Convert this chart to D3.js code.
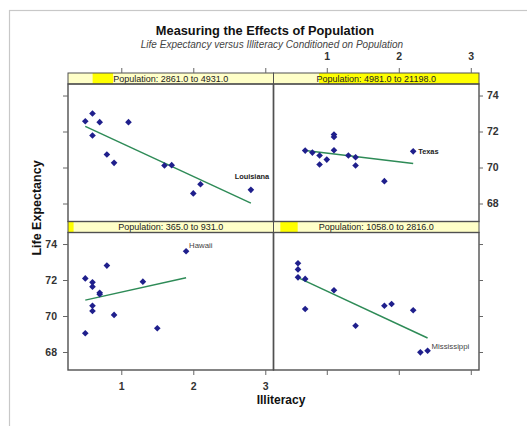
<!DOCTYPE html>
<html><head><meta charset="utf-8">
<script src="https://cdn.jsdelivr.net/npm/d3@7"></script>
<style>body{margin:0;background:#fff;} svg{display:block;}</style>
</head><body>
<script>
// ---- data ----
const popLow  = [365, 1058, 2861, 4981];
const popHigh = [931, 2816, 4931, 21198];
const popMin = 365, popMax = 21198;
// panel 1: pop 365-931 (bottom-left)
const illit1 = [0.5, 0.6, 0.6, 0.6, 0.6, 0.7, 0.7, 0.8, 0.9, 0.5, 1.3, 1.5, 1.9];
const life1  = [72.09, 71.87, 71.63, 70.57, 70.28, 71.29, 71.21, 72.80, 70.06, 69.04, 71.91, 69.32, 73.60];
// panel 2: pop 1058-2816 (bottom-right)
const illit2 = [0.6, 0.6, 0.6, 0.7, 0.7, 1.1, 1.4, 1.8, 1.9, 2.2, 2.3, 2.4];
const life2  = [72.93, 72.59, 72.15, 72.06, 70.39, 71.43, 69.46, 70.57, 70.67, 70.32, 67.98, 68.07];
// panel 3: pop 2861-4931 (top-left)
const illit3 = [0.5, 0.6, 0.6, 0.7, 0.8, 0.9, 1.1, 1.6, 1.7, 2.1, 2.0, 2.8];
const life3  = [72.57, 73.00, 71.78, 72.52, 70.72, 70.26, 72.52, 70.11, 70.13, 69.07, 68.56, 68.76];
// panel 4: pop 4981-21198 (top-right)
const illit4 = [0.7, 0.8, 0.9, 0.9, 1.0, 1.1, 1.1, 1.1, 1.3, 1.4, 1.4, 1.8, 2.2];
const life4  = [70.94, 70.83, 70.67, 70.17, 70.44, 71.83, 71.70, 70.96, 70.67, 70.57, 70.11, 69.24, 70.90];
const labelNames = ["Hawaii", "Mississippi", "Louisiana", "Texas"];
const labelIdx   = [12, 11, 11, 12];
const xTicks = [1, 2, 3];
const yTicks = [68, 70, 72, 74];

(function () {
const W = 527, H = 426;
const svg = d3.select("body").append("svg").attr("width", W).attr("height", H);
const font = "'Liberation Sans', Arial, sans-serif";

// outer light border
svg.append("rect").attr("x", 9.5).attr("y", 10.5).attr("width", 540).attr("height", 440)
  .attr("fill", "none").attr("stroke", "#c8c8c8").attr("stroke-width", 1.2);

// titles
svg.append("text").attr("x", 265).attr("y", 35).attr("text-anchor", "middle")
  .attr("font-family", font).attr("font-weight", "bold").attr("font-size", 12.8).attr("fill", "#111")
  .text("Measuring the Effects of Population");
svg.append("text").attr("x", 272).attr("y", 48).attr("text-anchor", "middle")
  .attr("font-family", font).attr("font-style", "italic").attr("font-size", 10).attr("fill", "#444")
  .text("Life Expectancy versus Illiteracy Conditioned on Population");

// layout
const leftX = 68, topY = 73, colW = 205.5, stripH = 11, plotH = 137.5;
const panelH = stripH + plotH;
const panels = [
  {xs: illit1, ys: life1, col: 0, row: 1},
  {xs: illit2, ys: life2, col: 1, row: 1},
  {xs: illit3, ys: life3, col: 0, row: 0},
  {xs: illit4, ys: life4, col: 1, row: 0}
];
const xDomain = [0.26, 3.114];
const yDomain = [67, 74.64];
const pointColor = "#1f1f8c", lineColor = "#2e8b57", frameColor = "#505050";

panels.forEach((p, i) => {
  const x0 = leftX + p.col * colW;
  const sy = topY + p.row * panelH;
  const py = sy + stripH;
  const x = d3.scaleLinear().domain(xDomain).range([x0, x0 + colW]);
  const y = d3.scaleLinear().domain(yDomain).range([py + plotH, py]);
  const g = svg.append("g");

  // strip
  g.append("rect").attr("x", x0).attr("y", sy).attr("width", colW).attr("height", stripH)
    .attr("fill", "#ffffc8");
  const ps = d3.scaleLinear().domain([popMin, popMax]).range([x0, x0 + colW]);
  g.append("rect").attr("x", ps(popLow[i])).attr("y", sy)
    .attr("width", Math.max(3, ps(popHigh[i]) - ps(popLow[i]))).attr("height", stripH)
    .attr("fill", "#ffff00");
  g.append("rect").attr("x", x0).attr("y", sy).attr("width", colW).attr("height", stripH)
    .attr("fill", "none").attr("stroke", frameColor).attr("stroke-width", 1);
  g.append("text").attr("x", x0 + colW / 2).attr("y", sy + 8.9).attr("text-anchor", "middle")
    .attr("font-family", font).attr("font-size", 9).attr("fill", "#222")
    .text(`Population: ${popLow[i].toFixed(1)} to ${popHigh[i].toFixed(1)}`);

  // plot frame
  g.append("rect").attr("x", x0).attr("y", py).attr("width", colW).attr("height", plotH)
    .attr("fill", "none").attr("stroke", frameColor).attr("stroke-width", 1.4);

  // regression line from the data
  const mx = d3.mean(p.xs), my = d3.mean(p.ys);
  const sxy = d3.sum(p.xs.map((v, k) => (v - mx) * (p.ys[k] - my)));
  const sxx = d3.sum(p.xs.map(v => (v - mx) * (v - mx)));
  const b = sxy / sxx, a = my - b * mx;
  const [ex0, ex1] = d3.extent(p.xs);
  g.append("line").attr("x1", x(ex0)).attr("y1", y(a + b * ex0))
    .attr("x2", x(ex1)).attr("y2", y(a + b * ex1))
    .attr("stroke", lineColor).attr("stroke-width", 1.5);

  // points
  const sym = d3.symbol().type(d3.symbolSquare).size(22);
  p.xs.forEach((v, k) => {
    g.append("path").attr("d", sym())
      .attr("transform", `translate(${x(v)},${y(p.ys[k])}) rotate(45)`)
      .attr("fill", pointColor);
  });

  // label
  const li = labelIdx[i];
  const lx = x(p.xs[li]), ly = y(p.ys[li]);
  const lab = g.append("text").attr("font-family", font).attr("fill", "#222").text(labelNames[i]);
  if (i === 0) lab.attr("x", lx + 3).attr("y", ly - 3.5).attr("font-size", 7.8).attr("fill", "#444");
  if (i === 1) lab.attr("x", lx + 4).attr("y", ly - 2).attr("font-size", 7.8).attr("fill", "#444");
  if (i === 2) lab.attr("x", lx + 1).attr("y", ly - 10.5).attr("text-anchor", "middle").attr("font-size", 7.4).attr("font-weight", "bold");
  if (i === 3) lab.attr("x", lx + 5).attr("y", ly + 2.6).attr("font-size", 7.4).attr("font-weight", "bold");

  // axes
  const noDomain = sel => sel.select(".domain").remove();
  if (p.row === 1) {
    const ax = g.append("g").attr("transform", `translate(0,${py + plotH})`)
      .call(d3.axisBottom(x).tickValues(xTicks).tickSize(5).tickPadding(8)
        .tickFormat(p.col === 0 ? d3.format("d") : ""));
    noDomain(ax);
  } else {
    const ax = g.append("g").attr("transform", `translate(0,${sy})`)
      .call(d3.axisTop(x).tickValues(xTicks).tickSize(5).tickPadding(8)
        .tickFormat(p.col === 1 ? d3.format("d") : ""));
    noDomain(ax);
  }
  if (p.col === 0) {
    const ay = g.append("g").attr("transform", `translate(${x0},0)`)
      .call(d3.axisLeft(y).tickValues(yTicks).tickSize(5).tickPadding(6)
        .tickFormat(p.row === 1 ? d3.format("d") : ""));
    noDomain(ay);
  } else {
    const ay = g.append("g").attr("transform", `translate(${x0 + colW},0)`)
      .call(d3.axisRight(y).tickValues(yTicks).tickSize(4).tickPadding(4)
        .tickFormat(p.row === 0 ? d3.format("d") : ""));
    noDomain(ay);
  }
});

svg.selectAll(".tick line").attr("stroke", "#666");
svg.selectAll(".tick text").attr("font-family", font).attr("font-size", 10.5)
  .attr("font-weight", "bold").attr("fill", "#333");

// axis titles
svg.append("text").attr("x", 281).attr("y", 404).attr("text-anchor", "middle")
  .attr("font-family", font).attr("font-weight", "bold").attr("font-size", 12).attr("fill", "#111")
  .text("Illiteracy");
svg.append("text").attr("transform", "translate(41,208) rotate(-90)").attr("text-anchor", "middle")
  .attr("font-family", font).attr("font-weight", "bold").attr("font-size", 12.5).attr("fill", "#111")
  .text("Life Expectancy");
})();
</script>
</body></html>
